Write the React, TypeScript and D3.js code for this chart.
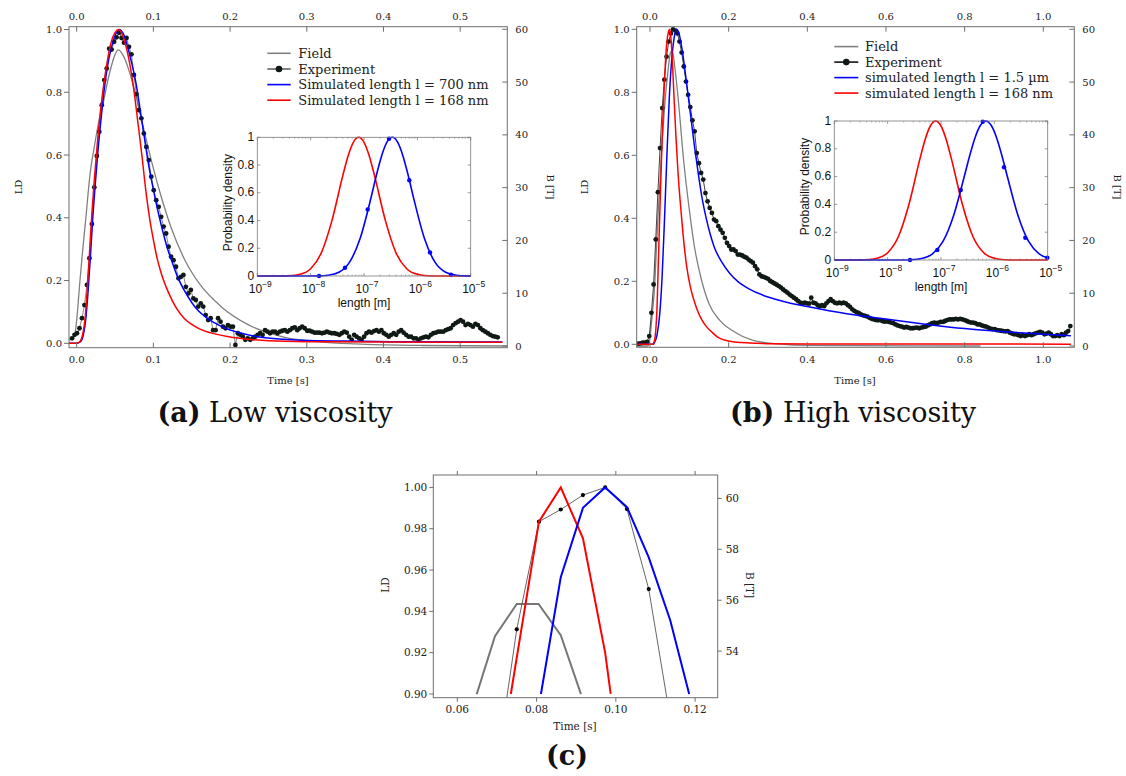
import React from "react";
import * as d3 from "d3";

type Pt = [number, number];

const SERIF = "'DejaVu Serif', serif";
const SANS = "'Liberation Sans', Arial, sans-serif";

// ---------------- Panel (a): low viscosity ----------------
const fieldA: Pt[] = [[-0.01,1.1],[-0.004,1.7],[-0.001,3.5],[0.001,6.5],[0.0043,12.4],[0.008,18.4],[0.012,24.3],[0.017,32.0],[0.024,38.6],[0.03,43.3],[0.035,46.3],[0.04,49.9],[0.045,52.9],[0.05,55.2],[0.054,56.1],[0.06,55.2],[0.068,52.3],[0.075,48.7],[0.082,44.5],[0.095,36.5],[0.109,28.9],[0.123,22.5],[0.141,16.3],[0.16,11.8],[0.188,7.5],[0.224,4.0],[0.27,1.7],[0.317,0.8],[0.363,0.4],[0.45,0.1],[0.561,0]];
const redA: Pt[] = [[-0.01,0],[0.0,0.0],[0.004,0.005],[0.008,0.03],[0.011,0.08],[0.014,0.18],[0.017,0.3],[0.02,0.42],[0.023,0.52],[0.027,0.64],[0.031,0.74],[0.035,0.82],[0.04,0.9],[0.045,0.96],[0.05,0.99],[0.055,1.0],[0.06,0.98],[0.065,0.94],[0.07,0.88],[0.075,0.8],[0.08,0.7],[0.085,0.6],[0.09,0.49],[0.095,0.4],[0.1,0.33],[0.105,0.27],[0.11,0.225],[0.12,0.16],[0.13,0.112],[0.14,0.08],[0.15,0.06],[0.16,0.046],[0.18,0.03],[0.2,0.02],[0.22,0.014],[0.25,0.008],[0.3,0.005],[0.4,0.004],[0.555,0.003]];
const blueA: Pt[] = [[-0.01,0],[0.0,0.0],[0.005,0.005],[0.009,0.03],[0.012,0.08],[0.015,0.17],[0.018,0.28],[0.021,0.4],[0.024,0.5],[0.028,0.62],[0.032,0.72],[0.036,0.81],[0.04,0.88],[0.045,0.94],[0.05,0.98],[0.056,1.0],[0.062,0.98],[0.068,0.93],[0.073,0.88],[0.078,0.82],[0.083,0.74],[0.088,0.66],[0.093,0.58],[0.1,0.49],[0.107,0.41],[0.113,0.35],[0.118,0.305],[0.125,0.255],[0.131,0.215],[0.14,0.17],[0.15,0.13],[0.158,0.105],[0.17,0.08],[0.18,0.065],[0.192,0.05],[0.21,0.035],[0.238,0.02],[0.27,0.013],[0.294,0.01],[0.35,0.007],[0.41,0.005],[0.555,0.004]];
const expAStart = -0.006;
const expAStep = 0.003226;
const expA = [0.016,0.027,0.032,0.048,0.080,0.122,0.186,0.271,0.380,0.497,
 0.597,0.674,0.759,0.839,0.876,0.939,0.936,0.961,0.975,0.990,
 0.973,0.958,0.973,0.945,0.921,0.855,0.794,0.743,0.717,0.669,
 0.626,0.584,0.531,0.488,0.456,0.435,0.403,0.372,0.350,0.308,
 0.276,0.265,0.244,0.207,0.212,0.218,0.180,0.159,0.170,0.143,
 0.138,0.117,0.127,0.117,0.090,0.074,0.080,0.042,0.042,0.080,
 0.069,0.053,0.048,0.058,0.053,0.053,-0.005,0.032,0.027,0.021,
 0.011,0.016,0.011,0.016,0.021,0.027,0.032,0.027,0.042,0.037,
 0.032,0.037,0.037,0.032,0.037,0.040,0.042,0.037,0.042,0.048,
 0.051,0.042,0.048,0.053,0.048,0.040,0.040,0.037,0.034,0.034,
 0.034,0.032,0.034,0.037,0.034,0.032,0.032,0.030,0.027,0.032,
 0.037,0.034,0.021,0.011,0.027,0.021,0.016,0.011,0.021,0.032,
 0.037,0.034,0.039,0.042,0.037,0.042,0.032,0.027,0.021,0.027,
 0.032,0.027,0.037,0.042,0.034,0.027,0.021,0.021,0.016,0.016,
 0.011,0.016,0.019,0.021,0.019,0.027,0.032,0.034,0.037,0.037,
 0.037,0.042,0.045,0.048,0.058,0.064,0.069,0.074,0.069,0.058,
 0.062,0.058,0.053,0.062,0.058,0.048,0.042,0.037,0.032,0.027,
 0.023,0.021,0.019];
const xTicksA = [0, 0.1, 0.2, 0.3, 0.4, 0.5];
const legendA = ["Field", "Experiment", "Simulated length l = 700 nm", "Simulated length l = 168 nm"];

// ---------------- Panel (b): high viscosity ----------------
const fieldB: Pt[] = [[-0.034,0],[-0.006,0],[-0.002,0.5],[0.002,3],[0.007,7],[0.012,11.5],[0.016,18],[0.021,25.5],[0.026,32],[0.0305,38.4],[0.035,43],[0.04,47.9],[0.045,51.5],[0.049,54.2],[0.053,55.8],[0.058,55.5],[0.063,52.9],[0.072,46.6],[0.0855,35.2],[0.099,26.4],[0.113,18.8],[0.131,12.5],[0.15,8.0],[0.177,4.9],[0.214,2.7],[0.26,1.1],[0.323,0.4],[0.413,0.1],[0.84,0]];
const redB: Pt[] = [[-0.034,0],[0.006,0],[0.011,0.01],[0.015,0.05],[0.018,0.12],[0.021,0.25],[0.025,0.42],[0.029,0.58],[0.033,0.72],[0.037,0.84],[0.041,0.93],[0.045,0.98],[0.05,1.0],[0.054,0.96],[0.058,0.87],[0.062,0.76],[0.066,0.66],[0.071,0.55],[0.077,0.45],[0.084,0.35],[0.093,0.25],[0.103,0.18],[0.113,0.135],[0.123,0.1],[0.133,0.075],[0.143,0.057],[0.159,0.037],[0.173,0.022],[0.203,0.01],[0.253,0.004],[0.3,0.002],[0.4,0.001],[1.07,0.0005]];
const blueB: Pt[] = [[-0.034,0],[0.008,0],[0.011,0.005],[0.018,0.03],[0.025,0.1],[0.031,0.22],[0.037,0.4],[0.043,0.6],[0.049,0.78],[0.055,0.9],[0.061,0.97],[0.067,1.0],[0.073,0.99],[0.081,0.94],[0.091,0.85],[0.103,0.73],[0.113,0.63],[0.123,0.54],[0.133,0.46],[0.143,0.4],[0.153,0.35],[0.163,0.31],[0.183,0.26],[0.203,0.225],[0.223,0.2],[0.253,0.175],[0.3,0.15],[0.35,0.133],[0.4,0.12],[0.5,0.097],[0.6,0.08],[0.7,0.064],[0.8,0.05],[0.9,0.04],[1.0,0.032],[1.07,0.027]];
const expBStart = -0.0293;
const expBStep = 0.00549;
const expB = [0.002,0.003,0.005,0.005,0.008,0.026,0.100,0.190,0.333,0.483,
 0.623,0.750,0.840,0.913,0.961,0.987,1.000,0.996,0.987,0.961,
 0.926,0.882,0.834,0.792,0.753,0.711,0.676,0.607,0.575,0.544,
 0.523,0.480,0.454,0.433,0.417,0.396,0.391,0.375,0.364,0.354,
 0.338,0.322,0.312,0.301,0.301,0.296,0.285,0.285,0.282,0.278,
 0.275,0.269,0.264,0.259,0.248,0.238,0.222,0.216,0.214,0.211,
 0.208,0.201,0.197,0.193,0.189,0.185,0.180,0.174,0.169,0.164,
 0.158,0.153,0.148,0.143,0.137,0.132,0.130,0.132,0.130,0.129,
 0.148,0.132,0.130,0.124,0.121,0.124,0.121,0.130,0.137,0.143,
 0.137,0.132,0.130,0.132,0.130,0.132,0.130,0.124,0.119,0.111,
 0.106,0.102,0.100,0.095,0.092,0.090,0.088,0.084,0.081,0.079,
 0.077,0.076,0.077,0.074,0.072,0.073,0.071,0.069,0.067,0.063,
 0.060,0.058,0.056,0.053,0.055,0.053,0.051,0.051,0.052,0.053,
 0.051,0.053,0.055,0.056,0.060,0.063,0.067,0.069,0.067,0.069,
 0.071,0.071,0.074,0.077,0.079,0.079,0.079,0.081,0.079,0.081,
 0.079,0.077,0.074,0.071,0.069,0.069,0.067,0.063,0.063,0.060,
 0.058,0.056,0.053,0.050,0.048,0.048,0.045,0.044,0.043,0.042,
 0.041,0.042,0.037,0.034,0.032,0.032,0.029,0.026,0.029,0.026,
 0.029,0.032,0.029,0.032,0.035,0.037,0.039,0.037,0.032,0.034,
 0.037,0.032,0.026,0.026,0.029,0.026,0.032,0.029,0.037,0.042,
 0.058];
const xTicksB = [0, 0.2, 0.4, 0.6, 0.8, 1.0];
const legendB = ["Field", "Experiment", "simulated length l = 1.5 µm", "simulated length l = 168 nm"];

const ldTicks = [0, 0.2, 0.4, 0.6, 0.8, 1.0];
const bTicks = [0, 10, 20, 30, 40, 50, 60];

// ---------------- Insets: length distributions (log10 of length in m, density) ----------------
const insetRed: Pt[] = [[-9,0],[-8.8,0],[-8.6,0.0003],[-8.4,0.002],[-8.2,0.012],[-8.0,0.052],[-7.8,0.167],[-7.6,0.401],[-7.4,0.72],[-7.3,0.864],[-7.2,0.964],[-7.1,1.0],[-7.0,0.964],[-6.9,0.864],[-6.8,0.72],[-6.6,0.401],[-6.4,0.167],[-6.2,0.052],[-6.0,0.012],[-5.8,0.002],[-5.6,0.0003],[-5.4,0],[-5.0,0]];
const insetBlueA: Pt[] = [[-9,0],[-8.27,0],[-8.07,0.0001],[-7.87,0.0009],[-7.67,0.0056],[-7.47,0.027],[-7.27,0.1],[-7.07,0.274],[-6.87,0.562],[-6.77,0.723],[-6.67,0.866],[-6.57,0.965],[-6.47,1.0],[-6.37,0.965],[-6.27,0.866],[-6.17,0.723],[-6.07,0.562],[-5.87,0.274],[-5.67,0.1],[-5.47,0.027],[-5.27,0.0056],[-5.07,0.0009],[-5.0,0.0004]];
const insetMarkA: Pt[] = [[-7.843,0],[-7.356,0.06],[-6.931,0.48],[-6.531,0.99],[-6.151,0.69],[-5.763,0.17],[-5.369,0.01]];
const insetBlueB: Pt[] = [[-9,0],[-7.96,0],[-7.76,0.0003],[-7.56,0.002],[-7.36,0.011],[-7.16,0.044],[-6.96,0.135],[-6.76,0.324],[-6.56,0.606],[-6.46,0.754],[-6.36,0.882],[-6.26,0.969],[-6.16,1.0],[-6.06,0.969],[-5.96,0.882],[-5.86,0.754],[-5.76,0.606],[-5.56,0.324],[-5.36,0.135],[-5.16,0.044],[-5.0,0.015]];
const insetMarkB: Pt[] = [[-7.581,0],[-7.069,0.072],[-6.63,0.504],[-6.218,0.995],[-5.819,0.667],[-5.42,0.16],[-5.007,0.017]];
const insetXExp = [-9, -8, -7, -6, -5];
const insetYTicks = [0, 0.2, 0.4, 0.6, 0.8, 1];

// ---------------- Panel (c): zoom on peak ----------------
const fieldC: Pt[] = [[0.0649,52.31],[0.0695,54.59],[0.075,55.85],[0.0805,55.85],[0.0861,54.63],[0.0912,52.31]];
const redC: Pt[] = [[0.0735,0.90],[0.0806,0.9834],[0.0861,1.0],[0.0917,0.9753],[0.0973,0.92],[0.0987,0.90]];
const blueC: Pt[] = [[0.0811,0.90],[0.0861,0.9565],[0.0917,0.9901],[0.0973,1.0],[0.1028,0.9905],[0.1083,0.9661],[0.1137,0.9358],[0.1185,0.90]];
const expC: Pt[] = [[0.0695,0.8587],[0.075,0.9313],[0.0806,0.9834],[0.0861,0.9893],[0.0917,0.9963],[0.0973,1.0],[0.1028,0.9895],[0.1083,0.9508],[0.1138,0.8873]];
const xTicksC = [0.06, 0.08, 0.10, 0.12];
const ldTicksC = [0.90, 0.92, 0.94, 0.96, 0.98, 1.00];
const bTicksC = [54, 56, 58, 60];

const SPINE = "#6e6e6e";
const TXT = "#222";
const DOT = "#0f1a14";

function Inset({ box, blue, marks }: any) {
  const x = d3.scaleLog().domain([1e-9, 1e-5]).range([box.l, box.r]);
  const y = d3.scaleLinear().domain([0, 1]).range([box.b, box.t]);
  const line = d3.line<Pt>().x(d => x(Math.pow(10, d[0]))).y(d => y(d[1])).curve(d3.curveMonotoneX);
  const minors: number[] = [];
  for (let e = -9; e < -5; e++) for (let k = 2; k < 10; k++) minors.push(k * Math.pow(10, e));
  const tk = 3;
  const fs = 12;
  return (
    <g>
      <rect x={box.l} y={box.t} width={box.r - box.l} height={box.b - box.t} fill="#fff" />
      {insetXExp.map(e => (
        <g key={e}>
          <line x1={x(Math.pow(10, e))} x2={x(Math.pow(10, e))} y1={box.b} y2={box.b - tk} stroke="#555" strokeWidth={0.6} />
          <line x1={x(Math.pow(10, e))} x2={x(Math.pow(10, e))} y1={box.t} y2={box.t + tk} stroke="#555" strokeWidth={0.6} />
          <text x={x(Math.pow(10, e)) + 3} y={box.b + 16.5} textAnchor="middle" fontFamily={SANS} fontSize={fs} fill="#111">
            10<tspan dy={-6} fontSize={8.5}>{"\u2212" + Math.abs(e)}</tspan>
          </text>
        </g>
      ))}
      {minors.map((m, i) => (
        <g key={i}>
          <line x1={x(m)} x2={x(m)} y1={box.b} y2={box.b - 1.6} stroke="#777" strokeWidth={0.5} />
          <line x1={x(m)} x2={x(m)} y1={box.t} y2={box.t + 1.6} stroke="#777" strokeWidth={0.5} />
        </g>
      ))}
      {insetYTicks.map(v => (
        <g key={v}>
          <line x1={box.l} x2={box.l + tk} y1={y(v)} y2={y(v)} stroke="#555" strokeWidth={0.6} />
          <line x1={box.r} x2={box.r - tk} y1={y(v)} y2={y(v)} stroke="#555" strokeWidth={0.6} />
          <text x={box.l - 3} y={y(v) - 0.5} dy="0.34em" textAnchor="end" fontFamily={SANS} fontSize={fs} fill="#111">{String(v)}</text>
        </g>
      ))}
      <path d={line(insetRed) || ""} fill="none" stroke="#ff0000" strokeWidth={1.6} />
      <path d={line(blue) || ""} fill="none" stroke="#0000ff" strokeWidth={1.6} />
      {marks.map((d: Pt, i: number) => (
        <circle key={i} cx={x(Math.pow(10, d[0]))} cy={y(d[1])} r={2.2} fill="#0000ff" />
      ))}
      <rect x={box.l} y={box.t} width={box.r - box.l} height={box.b - box.t} fill="none" stroke="#7a7a7a" strokeWidth={0.8} />
      <text x={(box.l + box.r) / 2} y={box.b + 30.5} textAnchor="middle" fontFamily={SANS} fontSize={fs} fill="#111">length [m]</text>
      <text transform={`translate(${box.l - 25},${(box.t + box.b) / 2 - 4}) rotate(-90)`} textAnchor="middle" fontFamily={SANS} fontSize={fs} fill="#111">Probability density</text>
    </g>
  );
}

function MainPanel(p: any) {
  const { id, box, xDomain, ldDomain, bDomain, xTicks, field, exp, expStart, expStep, blue, red, expLine, labels, legend, legendLabels, inset } = p;
  const x = d3.scaleLinear().domain(xDomain).range([box.l, box.r]);
  const yL = d3.scaleLinear().domain(ldDomain).range([box.b, box.t]);
  const yB = d3.scaleLinear().domain(bDomain).range([box.b, box.t]);
  const smoothL = d3.line<Pt>().x(d => x(d[0])).y(d => yL(d[1])).curve(d3.curveMonotoneX);
  const smoothB = d3.line<Pt>().x(d => x(d[0])).y(d => yB(d[1])).curve(d3.curveMonotoneX);
  const straight = d3.line<Pt>().x(d => x(d[0])).y(d => yL(d[1]));
  const expPts: Pt[] = exp.map((v: number, i: number) => [expStart + i * expStep, v]);
  const fmt1 = d3.format(".1f");
  const tk = 5;
  const legendColors = ["#808080", expLine, "#0000ff", "#ff0000"];
  return (
    <g>
      <defs>
        <clipPath id={id}>
          <rect x={box.l} y={box.t} width={box.r - box.l} height={box.b - box.t} />
        </clipPath>
      </defs>
      <g clipPath={`url(#${id})`}>
        <path d={smoothB(field) || ""} fill="none" stroke="#808080" strokeWidth={1.3} />
        <path d={straight(expPts) || ""} fill="none" stroke={expLine} strokeWidth={0.8} />
        {expPts.map((d, i) => (
          <circle key={i} cx={x(d[0])} cy={yL(d[1])} r={2.4} fill={DOT} />
        ))}
        <path d={smoothL(blue) || ""} fill="none" stroke="#0000ff" strokeWidth={1.5} />
        <path d={smoothL(red) || ""} fill="none" stroke="#ff0000" strokeWidth={1.5} />
      </g>
      <rect x={box.l} y={box.t} width={box.r - box.l} height={box.b - box.t} fill="none" stroke={SPINE} strokeWidth={1} />
      {xTicks.map((v: number) => (
        <g key={v}>
          <line x1={x(v)} x2={x(v)} y1={box.b} y2={box.b - tk} stroke={SPINE} />
          <line x1={x(v)} x2={x(v)} y1={box.t} y2={box.t + tk} stroke={SPINE} />
          <text x={x(v)} y={box.b + 12} dy="0.36em" textAnchor="middle" fontFamily={SERIF} fontSize={10} fill={TXT}>{fmt1(v)}</text>
          <text x={x(v)} y={box.t - 10} dy="0.36em" textAnchor="middle" fontFamily={SERIF} fontSize={10} fill={TXT}>{fmt1(v)}</text>
        </g>
      ))}
      {ldTicks.map(v => (
        <g key={v}>
          <line x1={box.l - tk} x2={box.l} y1={yL(v)} y2={yL(v)} stroke={SPINE} />
          <text x={box.l - 7} y={yL(v)} dy="0.36em" textAnchor="end" fontFamily={SERIF} fontSize={10} fill={TXT}>{fmt1(v)}</text>
        </g>
      ))}
      {bTicks.map(v => (
        <g key={v}>
          <line x1={box.r - tk} x2={box.r} y1={yB(v)} y2={yB(v)} stroke={SPINE} />
          <text x={box.r + 8} y={yB(v)} dy="0.36em" textAnchor="start" fontFamily={SERIF} fontSize={10} fill={TXT}>{String(v)}</text>
        </g>
      ))}
      <text transform={`translate(${labels.ld[0]},${labels.ld[1]}) rotate(-90)`} dy="0.36em" textAnchor="middle" fontFamily={SERIF} fontSize={10} fill={TXT}>LD</text>
      <text transform={`translate(${labels.b[0]},${labels.b[1]}) rotate(90)`} dy="0.36em" textAnchor="middle" fontFamily={SERIF} fontSize={10} fill={TXT}>B [T]</text>
      <text x={labels.time[0]} y={labels.time[1]} dy="0.36em" textAnchor="middle" fontFamily={SERIF} fontSize={10} fill={TXT}>Time [s]</text>
      {legendLabels.map((lab: string, i: number) => (
        <g key={lab}>
          <line x1={legend.x0} x2={legend.x1} y1={legend.rows[i]} y2={legend.rows[i]} stroke={legendColors[i]} strokeWidth={1.6} />
          {i === 1 && <circle cx={(legend.x0 + legend.x1) / 2} cy={legend.rows[i]} r={3.3} fill={DOT} />}
          <text x={legend.tx} y={legend.rows[i]} dy="0.36em" fontFamily={SERIF} fontSize={13} fill={TXT}>{lab}</text>
        </g>
      ))}
      <Inset box={inset.box} blue={inset.blue} marks={inset.marks} />
    </g>
  );
}

function PanelC() {
  const box = { l: 433.3, r: 717.7, t: 475, b: 697.7 };
  const x = d3.scaleLinear().domain([0.05394, 0.1257]).range([box.l, box.r]);
  const yL = d3.scaleLinear().domain([0.8982, 1.006]).range([box.b, box.t]);
  const yB = d3.scaleLinear().domain([52.17, 60.92]).range([box.b, box.t]);
  const lineL = d3.line<Pt>().x(d => x(d[0])).y(d => yL(d[1]));
  const lineB = d3.line<Pt>().x(d => x(d[0])).y(d => yB(d[1]));
  const fmt2 = d3.format(".2f");
  const tk = 4;
  return (
    <g>
      <defs>
        <clipPath id="clipC">
          <rect x={box.l} y={box.t} width={box.r - box.l} height={box.b - box.t} />
        </clipPath>
      </defs>
      <g clipPath="url(#clipC)">
        <path d={lineB(fieldC) || ""} fill="none" stroke="#777" strokeWidth={2} />
        <path d={lineL(expC) || ""} fill="none" stroke="#555" strokeWidth={0.9} />
        {expC.map((d, i) => (
          <circle key={i} cx={x(d[0])} cy={yL(d[1])} r={2.1} fill="#000" />
        ))}
        <path d={lineL(redC) || ""} fill="none" stroke="#ff0000" strokeWidth={2} />
        <path d={lineL(blueC) || ""} fill="none" stroke="#0000ff" strokeWidth={2} />
      </g>
      <rect x={box.l} y={box.t} width={box.r - box.l} height={box.b - box.t} fill="none" stroke={SPINE} strokeWidth={1} />
      {xTicksC.map(v => (
        <g key={v}>
          <line x1={x(v)} x2={x(v)} y1={box.b} y2={box.b + tk} stroke={SPINE} />
          <line x1={x(v)} x2={x(v)} y1={box.t} y2={box.t - tk} stroke={SPINE} />
          <text x={x(v)} y={box.b + 8} dy="0.71em" textAnchor="middle" fontFamily={SERIF} fontSize={10.5} fill={TXT}>{fmt2(v)}</text>
        </g>
      ))}
      {ldTicksC.map(v => (
        <g key={v}>
          <line x1={box.l - tk} x2={box.l} y1={yL(v)} y2={yL(v)} stroke={SPINE} />
          <text x={box.l - 6} y={yL(v)} dy="0.36em" textAnchor="end" fontFamily={SERIF} fontSize={10.5} fill={TXT}>{fmt2(v)}</text>
        </g>
      ))}
      {bTicksC.map(v => (
        <g key={v}>
          <line x1={box.r} x2={box.r + tk} y1={yB(v)} y2={yB(v)} stroke={SPINE} />
          <text x={box.r + 8} y={yB(v)} dy="0.36em" textAnchor="start" fontFamily={SERIF} fontSize={10.5} fill={TXT}>{String(v)}</text>
        </g>
      ))}
      <text transform="translate(385,585) rotate(-90)" dy="0.36em" textAnchor="middle" fontFamily={SERIF} fontSize={10.5} fill={TXT}>LD</text>
      <text transform="translate(750,585) rotate(90)" dy="0.36em" textAnchor="middle" fontFamily={SERIF} fontSize={10.5} fill={TXT}>B [T]</text>
      <text x={575} y={726} dy="0.36em" textAnchor="middle" fontFamily={SERIF} fontSize={10.5} fill={TXT}>Time [s]</text>
    </g>
  );
}

function Caption({ x, y, tag, text }: any) {
  return (
    <text x={x} y={y} textAnchor="middle" fontFamily={SERIF} fontSize={27} fill="#111">
      <tspan fontWeight="bold">{tag}</tspan>
      {text ? <tspan>{" " + text}</tspan> : null}
    </text>
  );
}

export default function App() {
  return (
    <svg width={1126} height={776} style={{ position: "absolute", left: 0, top: 0, background: "#fff" }}>
      <rect x={0} y={0} width={1126} height={776} fill="#fff" />
      <MainPanel
        id="clipA"
        box={{ l: 69, r: 507.3, t: 26.7, b: 347.7 }}
        xDomain={[-0.01, 0.5614]}
        ldDomain={[-0.014, 1.009]}
        bDomain={[-0.32, 60.49]}
        xTicks={xTicksA}
        field={fieldA}
        exp={expA}
        expStart={expAStart}
        expStep={expAStep}
        blue={blueA}
        red={redA}
        expLine="#666"
        labels={{ ld: [18, 187], b: [551, 187], time: [288, 380] }}
        legend={{ x0: 267.3, x1: 290.7, tx: 298.3, rows: [53.3, 69, 84.6, 100.2] }}
        legendLabels={legendA}
        inset={{ box: { l: 257.3, r: 470.7, t: 137.3, b: 276 }, blue: insetBlueA, marks: insetMarkA }}
      />
      <MainPanel
        id="clipB"
        box={{ l: 636.7, r: 1074.3, t: 26.7, b: 347.3 }}
        xDomain={[-0.0338, 1.0788]}
        ldDomain={[-0.0095, 1.0083]}
        bDomain={[-0.246, 60.49]}
        xTicks={xTicksB}
        field={fieldB}
        exp={expB}
        expStart={expBStart}
        expStep={expBStep}
        blue={blueB}
        red={redB}
        expLine="#111"
        labels={{ ld: [584, 187], b: [1118, 187], time: [855, 380] }}
        legend={{ x0: 834.3, x1: 858.3, tx: 865, rows: [46.6, 62.1, 77.6, 93.1] }}
        legendLabels={legendB}
        inset={{ box: { l: 834.3, r: 1047.7, t: 121, b: 260 }, blue: insetBlueB, marks: insetMarkB }}
      />
      <PanelC />
      <Caption x={275} y={422} tag="(a)" text="Low viscosity" />
      <Caption x={853} y={422} tag="(b)" text="High viscosity" />
      <Caption x={567} y={765} tag="(c)" text="" />
    </svg>
  );
}
